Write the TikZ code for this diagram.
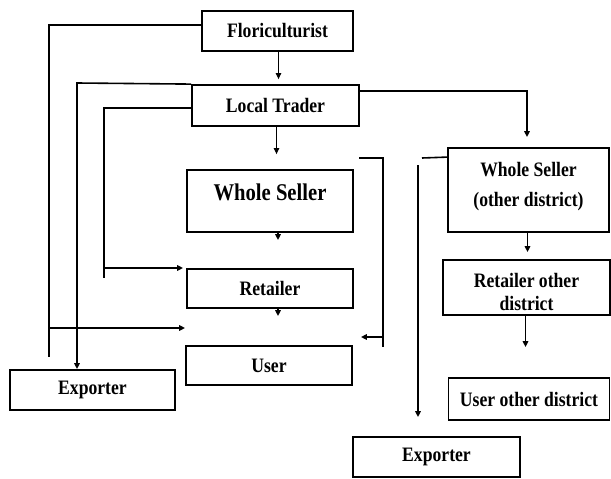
\documentclass[tikz,border=0pt]{standalone}
\usepackage{fontspec}
\setmainfont{Liberation Serif}
\newfontfamily\boxfont[FakeStretch=0.86]{Liberation Serif}
\usetikzlibrary{arrows.meta}

\tikzset{
  box/.style={draw, line width=1.8pt, inner sep=0pt, align=center,
    font=\boxfont\bfseries\fontsize{20.5}{24}\selectfont},
  link/.style={line width=1.6pt},
  thin link/.style={line width=1pt},
  tip/.style={-{Triangle[length=6pt,width=5.5pt]}}
}

\begin{document}
\begin{tikzpicture}[x=1pt,y=-1pt]
  \useasboundingbox (0,0) rectangle (611,479);

  % boxes of the local chain
  \node[box, minimum width=151pt, minimum height=40pt] (flori) at (277.5,31) {Floriculturist};
  \node[box, minimum width=167pt, minimum height=41pt] (local) at (275.5,105.5) {Local Trader};
  \node[box, minimum width=166pt, minimum height=62pt, text depth=18pt,
    font=\boxfont\bfseries\fontsize{24}{28}\selectfont] (whole) at (270,201) {Whole Seller};
  \node[box, minimum width=166pt, minimum height=39pt] (retailer) at (270,288.5) {Retailer};
  \node[box, minimum width=166pt, minimum height=39pt] (user) at (269,365.5) {User};
  \node[box, minimum width=165pt, minimum height=40pt] (exporter) at (92.5,390) {Exporter};

  % boxes of the other district
  \node[box, minimum width=161pt, minimum height=84pt, text depth=12pt,
    font=\boxfont\bfseries\fontsize{20.5}{30}\selectfont] (wholeod) at (528.5,190) {Whole Seller\\(other district)};
  \node[box, minimum width=167pt, minimum height=55pt, text height=50pt, text depth=4pt,
    font=\boxfont\bfseries\fontsize{20.5}{23}\selectfont] (retailod) at (526.5,287.5) {Retailer other\\district};
  \node[box, minimum width=161pt, minimum height=42pt] (userod) at (529,399) {User other district};
  \node[box, minimum width=167pt, minimum height=40pt] (exporterod) at (436.5,457) {Exporter};

  % corners and loose ends
  \coordinate (fl corner) at (49,25);
  \coordinate (fl end) at (49,357);
  \coordinate (fl branch) at (49,328);
  \coordinate (lt corner) at (77,83);
  \coordinate (lr corner) at (104,108);
  \coordinate (lr end) at (104,278);
  \coordinate (lr branch) at (104,268);
  \coordinate (br start) at (359,158);
  \coordinate (br end) at (383,347);
  \coordinate (br branch) at (383,337);
  \coordinate (od start) at (422,158);
  \coordinate (od line) at (418,165);

  % short arrows down the middle
  \foreach \from/\to/\gap in {flori/local/5, local/whole/15}
  {
    \draw[thin link, tip, shorten >=\gap pt] ([xshift=1pt]\from.south) -- ([xshift=1pt]\from.south |- \to.north);
  }
  \foreach \from/\to/\gap in {whole/retailer/28, retailer/user/29}
  {
    \draw[link, tip, shorten >=\gap pt] ([xshift=8pt]\from.south) -- ([xshift=8pt]\from.south |- \to.north);
  }
  \foreach \from/\to/\gap in {wholeod/retailod/7, retailod/userod/30}
  {
    \draw[link, tip, shorten >=\gap pt] ([xshift=-1pt]\from.south) -- ([xshift=-1pt]\from.south |- \to.north);
  }

  % lines on the left
  \draw[link] ([yshift=6pt]flori.west) -- (fl corner) -- (fl end);
  \draw[link, tip] (fl branch) -- (fl branch -| user.west);
  \draw[link, tip] (local.north west) -- (lt corner) -- (lt corner |- exporter.north);
  \draw[link] ([yshift=-2.5pt]local.west) -- (lr corner) -- (lr end);
  \draw[link, tip, shorten >=3pt] (lr branch) -- (lr branch -| retailer.west);

  % bracket on the right of the middle column
  \draw[link] (br start) -| (br end);
  \draw[link, tip, shorten >=8pt] (br branch) -- (br branch -| user.east);

  % lines to the other district
  \draw[link, tip, shorten >=10pt] ([yshift=-7pt]local.north east) -| ([xshift=-1.5pt]wholeod.north);
  \draw[link] ([yshift=-10pt]wholeod.north west) -- (od start);
  \draw[link, tip, shorten >=19pt] (od line) -- (od line |- exporterod.north);

\end{tikzpicture}
\end{document}
